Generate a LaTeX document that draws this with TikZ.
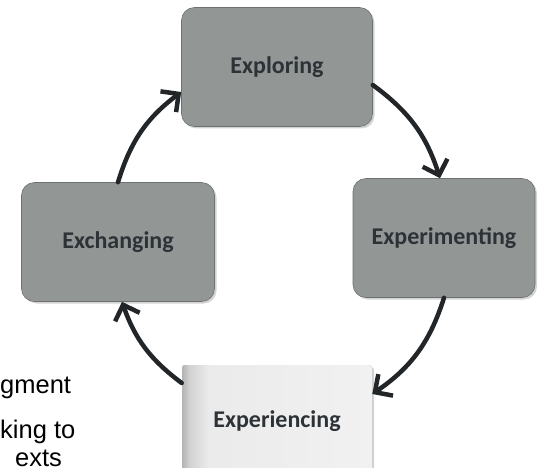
\documentclass[tikz,border=0pt]{standalone}
\usepackage{fontspec}
\setmainfont{Carlito}
\newfontfamily\sidefont{Liberation Sans}
\usetikzlibrary{arrows.meta, shadows}

\definecolor{boxgray}{RGB}{146,150,149}
\definecolor{labelgray}{RGB}{45,50,55}
\definecolor{arrowgray}{RGB}{35,38,40}
\pgfdeclarehorizontalshading{fadeleft}{100bp}{color(0bp)=(gray!60); color(25bp)=(gray!60);
  color(27bp)=(gray!35); color(32bp)=(white!92!black); color(100bp)=(white!96!black)}

\tikzset{
  stagebox/.style={rounded corners=13pt, fill=boxgray, draw=boxgray!75!black, line width=0.6pt,
    drop shadow={opacity=0.35, shadow xshift=2pt, shadow yshift=-2pt},
    minimum width=191pt, minimum height=119pt, text=labelgray,
    font=\fontsize{24}{24}\selectfont\bfseries},
  cyclearrow/.style={-{Straight Barb[length=13pt, width=26pt, line width=4.5pt]}, line width=4.5pt,
    color=arrowgray, line cap=round}
}

\begin{document}
\begin{tikzpicture}[x=1pt, y=-1pt]
      \clip (0, 0) rectangle (538, 468);
      \node[stagebox] (explore) at (277, 67) {Exploring};
      \node[stagebox, minimum width=182pt] (experiment) at (444, 238) {Experimenting};
      \node[stagebox, minimum width=193pt] (exchange) at (118, 242) {Exchanging};
      \node[stagebox, draw=none, drop shadow={opacity=0}, rounded corners=3pt, shading=fadeleft,
        minimum width=190pt, minimum height=112pt] (experience) at (277, 421) {Experiencing};
      % cut-off text at the left
      \foreach \txt/\x/\y [count=\i] in {gment/0/393, king to/0/438, exts/15/466} {
        \node[anchor=base west, inner sep=0pt, font=\sidefont\fontsize{25.5}{25.5}\selectfont] (side\i) at (\x, \y) {\txt};
      }
      \draw[cyclearrow] (exchange.north) to[bend left=18] ([yshift=-25pt]explore.west);
      \draw[cyclearrow] ([yshift=-18pt]explore.east) to[bend left=18] ([xshift=-4pt]experiment.north);
      \draw[cyclearrow] (experiment.south) to[bend left=19] ([yshift=27pt]experience.east);
      \draw[cyclearrow] ([yshift=38pt]experience.west) to[bend left=17] ([xshift=4pt]exchange.south);
    \end{tikzpicture}
\end{document}
